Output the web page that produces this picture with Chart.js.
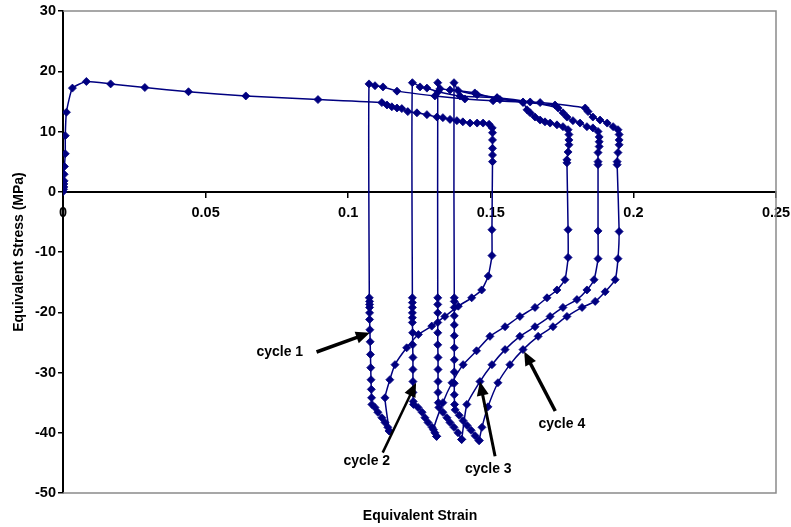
<!DOCTYPE html>
<html>
<head>
<meta charset="utf-8">
<script src="https://cdn.jsdelivr.net/npm/chart.js@4.4.0/dist/chart.umd.min.js"></script>
<style>
  html, body { margin: 0; padding: 0; background: #ffffff; }
  canvas { display: block; }
</style>
</head>
<body>
<canvas id="chart" width="791" height="527"></canvas>
<script>
// Axis tick labels
const xTickLabels = ['0', '0.05', '0.1', '0.15', '0.2', '0.25'];
const yTickLabels = ['-50', '-40', '-30', '-20', '-10', '0', '10', '20', '30'];

// Initial tensile loading, softening plateau, unloading and first compression branch
const loadStrain = [
  0, 0.0002, 0.0003, 0.0003, 0.0004, 0.0004, 0.0005, 0.0008, 0.0008, 0.0012, 0.0033, 0.0082, 0.0167, 0.0287, 0.0440, 0.0641, 0.0894,
  0.1118, 0.1136, 0.1153, 0.1171, 0.1188, 0.1209, 0.1241, 0.1276, 0.1311, 0.1332, 0.1357, 0.1381, 0.1402, 0.1427, 0.1452, 0.1473, 0.1494, 0.1505,
  0.1506, 0.1506, 0.1506, 0.1506, 0.1506,
  0.1504, 0.1504, 0.1491, 0.1468, 0.1433, 0.1386, 0.1339, 0.1293, 0.1246, 0.1205, 0.1164, 0.1146, 0.1129, 0.1144
];
const loadStress = [
  0, 0.4, 0.8, 1.3, 1.8, 2.9, 4.2, 6.3, 9.3, 13.2, 17.2, 18.3, 17.9, 17.3, 16.6, 15.9, 15.3,
  14.8, 14.4, 14.1, 13.9, 13.8, 13.3, 13.1, 12.8, 12.4, 12.3, 12.0, 11.8, 11.6, 11.4, 11.4, 11.4, 11.2, 10.6,
  9.8, 8.6, 7.2, 6.1, 5.0,
  -6.3, -10.6, -14.0, -16.3, -17.6, -19.0, -20.7, -22.3, -23.7, -25.9, -28.7, -31.2, -34.2, -39.7
];

// Cycle 1: reload in tension, soften, unload and compress
const cycle1Strain = [
  0.1144, 0.1139, 0.1129, 0.1118, 0.1104, 0.1094, 0.1083, 0.1082, 0.1081, 0.1080, 0.1079, 0.1078, 0.1077, 0.1076, 0.1075, 0.1075, 0.1075, 0.1075, 0.1075, 0.1074,
  0.1073, 0.1094, 0.1122, 0.1171, 0.1304, 0.1409, 0.1508, 0.1613,
  0.1627, 0.1638, 0.1655, 0.1673, 0.1690, 0.1708, 0.1732, 0.1753, 0.1771, 0.1774, 0.1774, 0.1774, 0.1771, 0.1767, 0.1767,
  0.1771, 0.1771, 0.1760, 0.1732, 0.1697, 0.1655, 0.1602, 0.1550, 0.1497, 0.1450, 0.1403, 0.1364, 0.1332, 0.1299, 0.1310
];
const cycle1Stress = [
  -39.7, -39.1, -38.3, -37.5, -36.6, -35.8, -35.3, -34.2, -32.8, -31.2, -29.2, -27.0, -24.9, -22.9, -21.2, -20.1, -19.2, -18.7, -18.2, -17.6,
  17.9, 17.6, 17.4, 16.7, 15.9, 15.4, 15.1, 14.8,
  13.6, 13.1, 12.4, 11.9, 11.6, 11.4, 11.1, 10.8, 10.3, 9.5, 8.6, 7.8, 6.6, 5.3, 4.8,
  -6.3, -10.9, -14.6, -16.3, -17.6, -19.2, -20.7, -22.4, -24.0, -26.4, -28.7, -31.7, -35.0, -39.5, -40.6
];

// Cycle 2
const cycle2Strain = [
  0.1310, 0.1304, 0.1294, 0.1280, 0.1269, 0.1259, 0.1245, 0.1229, 0.1228, 0.1227, 0.1227, 0.1227, 0.1227, 0.1226, 0.1226, 0.1225, 0.1225, 0.1225, 0.1225, 0.1225, 0.1225,
  0.1225, 0.1252, 0.1276, 0.1315, 0.1392, 0.1522, 0.1638, 0.1736,
  0.1753, 0.1767, 0.1788, 0.1813, 0.1837, 0.1858, 0.1876, 0.1880, 0.1880, 0.1880, 0.1876, 0.1876, 0.1876,
  0.1876, 0.1876, 0.1862, 0.1837, 0.1802, 0.1753, 0.1708, 0.1655, 0.1602, 0.1550, 0.1504, 0.1462, 0.1416, 0.1398
];
const cycle2Stress = [
  -40.6, -40.0, -39.1, -38.3, -37.5, -36.6, -35.8, -35.3, -34.8, -33.3, -31.5, -29.5, -27.5, -25.4, -23.4, -21.7, -20.9, -20.1, -19.2, -18.4, -17.6,
  18.1, 17.4, 17.2, 16.6, 15.9, 15.6, 14.9, 13.9,
  13.1, 12.4, 11.8, 11.4, 10.8, 10.6, 10.0, 9.1, 8.3, 7.5, 6.5, 5.0, 4.5,
  -6.5, -11.1, -14.6, -16.3, -17.9, -19.2, -20.7, -22.4, -24.0, -26.2, -28.7, -31.5, -35.3, -41.1
];

// Cycle 3
const cycle3Strain = [
  0.1398, 0.1385, 0.1371, 0.1357, 0.1346, 0.1332, 0.1318, 0.1316, 0.1315, 0.1315, 0.1315, 0.1315, 0.1314, 0.1314, 0.1314, 0.1314, 0.1314, 0.1314,
  0.1314, 0.1322, 0.1357, 0.1444, 0.1532, 0.1673, 0.1831,
  0.1841, 0.1858, 0.1883, 0.1908, 0.1929, 0.1946, 0.1950, 0.1950, 0.1950, 0.1946, 0.1943, 0.1943,
  0.1950, 0.1946, 0.1936, 0.1901, 0.1866, 0.1820, 0.1767, 0.1718, 0.1666, 0.1613, 0.1567, 0.1525, 0.1490, 0.1469, 0.1459
];
const cycle3Stress = [
  -41.1, -40.0, -39.1, -38.3, -37.5, -36.6, -35.8, -35.0, -33.3, -31.5, -29.5, -27.5, -25.4, -23.4, -21.7, -20.1, -18.7, -17.6,
  18.1, 17.1, 16.9, 16.4, 15.3, 14.8, 13.9,
  13.3, 12.4, 11.9, 11.4, 10.8, 10.3, 9.5, 8.6, 7.8, 6.5, 5.0, 4.5,
  -6.6, -11.1, -14.6, -16.6, -18.2, -19.2, -20.7, -22.4, -24.0, -26.2, -28.7, -31.7, -35.7, -39.1, -41.3
];

// Cycle 4: final reload in tension
const cycle4Strain = [
  0.1459, 0.1445, 0.1431, 0.1417, 0.1403, 0.1389, 0.1375, 0.1373, 0.1372, 0.1372, 0.1372, 0.1372, 0.1372, 0.1372, 0.1372, 0.1372, 0.1372, 0.1372, 0.1372,
  0.1371, 0.1385, 0.1452, 0.1522, 0.1613, 0.1725
];
const cycle4Stress = [
  -41.3, -40.5, -39.6, -38.8, -38.0, -37.1, -36.2, -35.3, -33.7, -31.8, -29.9, -27.9, -25.9, -23.9, -22.1, -20.6, -19.2, -18.2, -17.6,
  18.1, 16.8, 16.1, 15.6, 14.9, 14.4
];

// Callout labels with arrows (text anchor, arrow tail, arrow tip) in strain / stress units
const calloutText  = ['cycle 1', 'cycle 2', 'cycle 3', 'cycle 4'];
const calloutLabel = [[0.0760, -26.7], [0.1065, -44.7], [0.1491, -46.1], [0.1749, -38.6]];
const calloutTail  = [[0.0889, -26.6], [0.1121, -43.3], [0.1515, -43.9], [0.1726, -36.4]];
const calloutTip   = [[0.1076, -23.4], [0.1238, -31.7], [0.1462, -31.5], [0.1617, -26.5]];

const NAVY = '#000080';
const FONT = '"Liberation Sans", Arial, sans-serif';

const paths = [
  [loadStrain, loadStress],
  [cycle1Strain, cycle1Stress],
  [cycle2Strain, cycle2Stress],
  [cycle3Strain, cycle3Stress],
  [cycle4Strain, cycle4Stress]
];

const datasets = paths.map(([xs, ys]) => ({
  data: xs.map((x, i) => ({ x: x, y: ys[i] })),
  showLine: true,
  borderColor: NAVY,
  backgroundColor: NAVY,
  borderWidth: 1.5,
  pointStyle: 'rectRot',
  pointRadius: 4,
  pointBorderWidth: 0.8,
  pointBorderColor: NAVY,
  pointBackgroundColor: NAVY,
  tension: 0.15
}));

function drawArrow(ctx, x0, y0, x1, y1, width) {
  const ang = Math.atan2(y1 - y0, x1 - x0);
  const head = 14, half = 6;
  const bx = x1 - head * Math.cos(ang), by = y1 - head * Math.sin(ang);
  ctx.lineWidth = width;
  ctx.beginPath();
  ctx.moveTo(x0, y0);
  ctx.lineTo(bx + Math.cos(ang), by + Math.sin(ang));
  ctx.stroke();
  ctx.beginPath();
  ctx.moveTo(x1, y1);
  ctx.lineTo(bx + half * Math.sin(ang), by - half * Math.cos(ang));
  ctx.lineTo(bx - half * Math.sin(ang), by + half * Math.cos(ang));
  ctx.closePath();
  ctx.fill();
}

const frameAndNotes = {
  id: 'frameAndNotes',
  beforeDatasetsDraw(chart) {
    const { ctx, chartArea: a } = chart;
    ctx.save();
    ctx.strokeStyle = '#8a8a8a';
    ctx.lineWidth = 1.5;
    ctx.beginPath();
    ctx.moveTo(a.left, a.top);
    ctx.lineTo(a.right, a.top);
    ctx.lineTo(a.right, a.bottom);
    ctx.lineTo(a.left, a.bottom);
    ctx.stroke();
    ctx.restore();
  },
  afterDraw(chart) {
    const { ctx, chartArea: a } = chart;
    const sx = chart.scales.x, sy = chart.scales.y;
    ctx.save();
    ctx.fillStyle = '#000';
    ctx.strokeStyle = '#000';
    ctx.font = 'bold 14px ' + FONT;
    ctx.textAlign = 'center';
    ctx.textBaseline = 'middle';
    // axis titles
    ctx.fillText('Equivalent Strain', 420, 516);
    ctx.save();
    ctx.translate(19, (a.top + a.bottom) / 2);
    ctx.rotate(-Math.PI / 2);
    ctx.fillText('Equivalent Stress (MPa)', 0, 0);
    ctx.restore();
    // callouts
    const widths = [3.5, 2.5, 3, 3.5];
    calloutText.forEach((t, i) => {
      ctx.fillText(t, sx.getPixelForValue(calloutLabel[i][0]), sy.getPixelForValue(calloutLabel[i][1]));
      drawArrow(ctx,
        sx.getPixelForValue(calloutTail[i][0]), sy.getPixelForValue(calloutTail[i][1]),
        sx.getPixelForValue(calloutTip[i][0]), sy.getPixelForValue(calloutTip[i][1]),
        widths[i]);
    });
    ctx.restore();
  }
};

new Chart(document.getElementById('chart'), {
  type: 'scatter',
  data: { datasets },
  options: {
    responsive: false,
    animation: false,
    events: [],
    layout: { padding: { left: 0, right: 15, top: 11, bottom: 34 } },
    plugins: { legend: { display: false }, tooltip: { enabled: false } },
    scales: {
      x: {
        type: 'linear',
        position: { y: 0 },
        min: 0, max: 0.25,
        afterFit(scale) { scale.paddingLeft = 0; scale.paddingRight = 0; },
        ticks: {
          stepSize: 0.05,
          autoSkip: false,
          maxRotation: 0,
          padding: 8,
          color: '#000',
          font: { family: FONT, size: 14.5, weight: 'bold' },
          callback: (v, i) => xTickLabels[i]
        },
        grid: { drawOnChartArea: false, drawTicks: true, tickLength: 5, color: '#000', lineWidth: 1.5 },
        border: { display: true, color: '#000', width: 2 }
      },
      y: {
        type: 'linear',
        position: 'left',
        min: -50, max: 30,
        afterFit(scale) { scale.width = 63; },
        ticks: {
          stepSize: 10,
          autoSkip: false,
          padding: 2,
          color: '#000',
          font: { family: FONT, size: 14.5, weight: 'bold' },
          callback: (v, i) => yTickLabels[i]
        },
        grid: { drawOnChartArea: false, drawTicks: true, tickLength: 5, color: '#000', lineWidth: 1.5 },
        border: { display: true, color: '#000', width: 2 }
      }
    }
  },
  plugins: [frameAndNotes]
});
</script>
</body>
</html>
